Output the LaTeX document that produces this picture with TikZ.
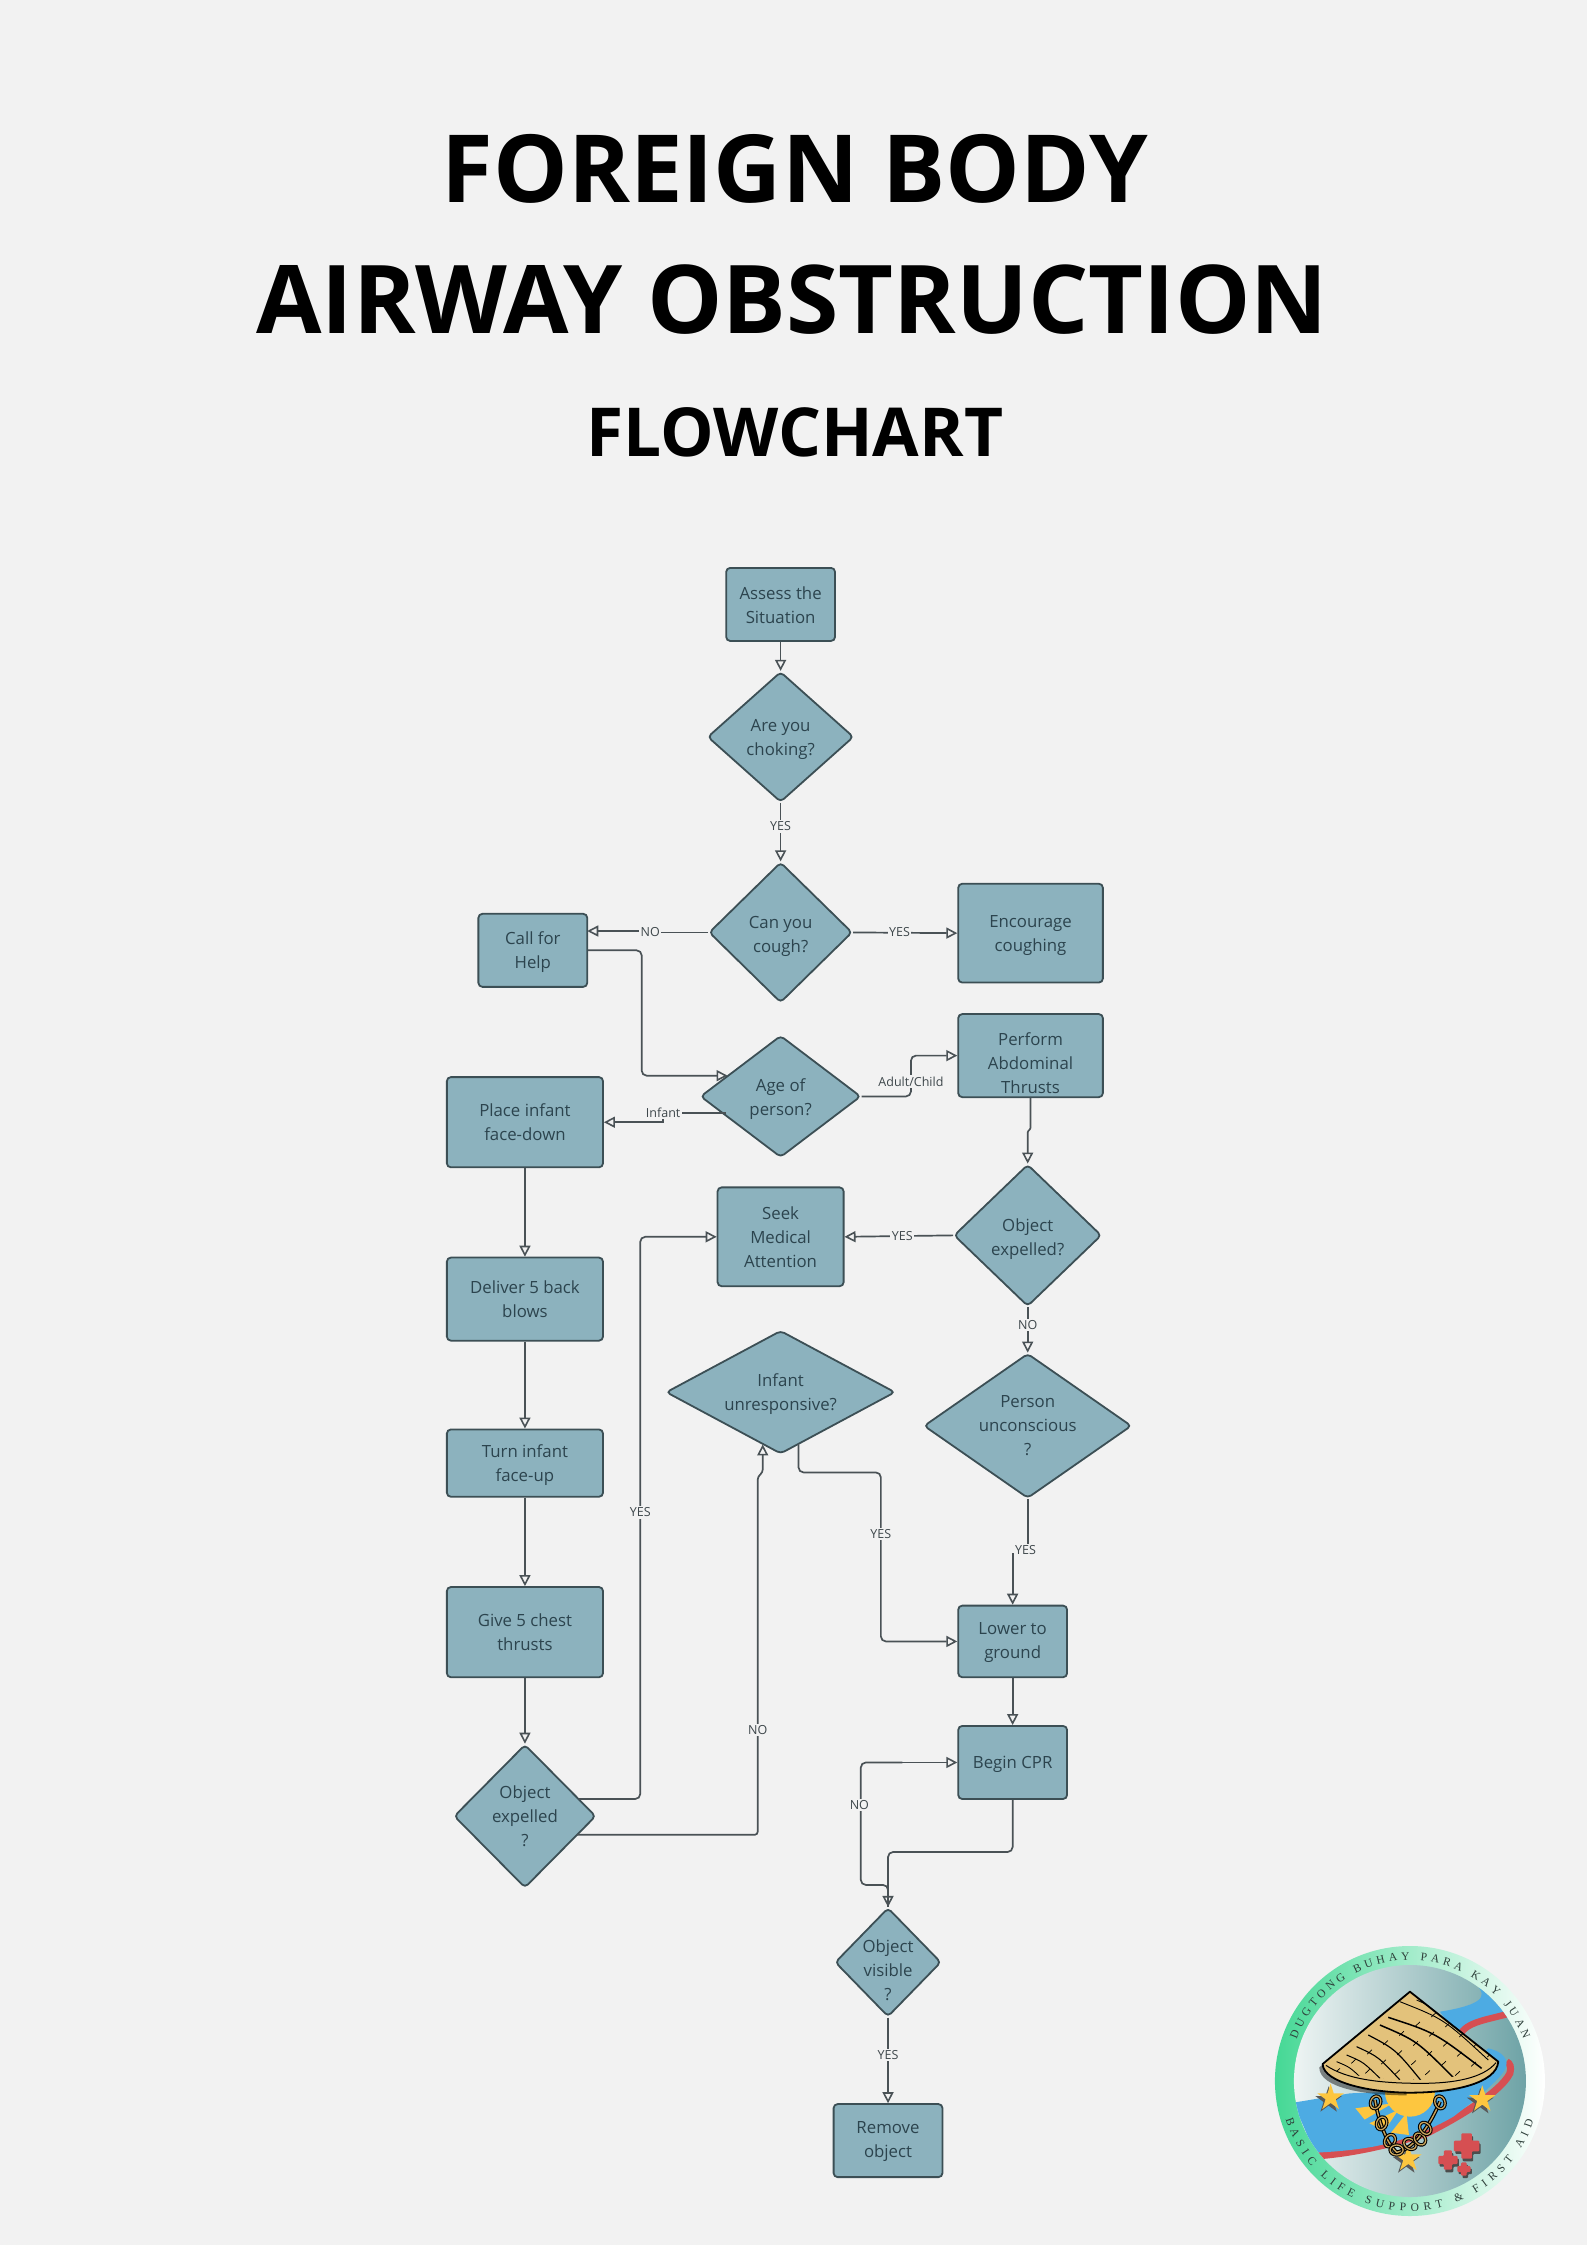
\documentclass[tikz,border=0pt]{standalone}
\usepackage{fontspec}
\setmainfont{Open Sans}
\newfontfamily\logofont{Liberation Serif}
\usetikzlibrary{shapes.geometric,arrows.meta,calc,decorations.text}
\definecolor{bgcol}{HTML}{F2F2F2}
\definecolor{boxfill}{HTML}{8CB2BE}
\definecolor{boxline}{HTML}{3C4F55}
\definecolor{flowline}{HTML}{4A5256}
\definecolor{boxtext}{HTML}{2C444E}
\definecolor{labtext}{HTML}{3E474B}
\definecolor{hatcol}{HTML}{E3C27B}
\definecolor{sunY}{HTML}{FDC63F}
\definecolor{riverB}{HTML}{4DABE3}
\definecolor{riverR}{HTML}{D64F52}
\definecolor{ringL}{HTML}{45D895}
\definecolor{discL}{HTML}{EEF4F3}
\definecolor{discR}{HTML}{6EA3A6}
\definecolor{ringtext}{HTML}{2E3F3A}
\definecolor{chainC}{HTML}{C9A35A}
\tikzset{
  box/.style={draw=boxline,fill=boxfill,line width=1.8pt,rounded corners=4pt,inner sep=0pt},
  dia/.style={diamond,draw=boxline,fill=boxfill,line width=1.8pt,rounded corners=4pt,inner sep=0pt},
  boxlabel/.style={align=center,text=boxtext,inner sep=0pt,font=\fontsize{16.8}{24}\selectfont},
  flow/.style={draw=flowline,line width=1.7pt,rounded corners=5pt,
    -{Triangle[open,length=11pt,width=11pt,line width=1.6pt]}},
  flowplain/.style={draw=flowline,line width=1.7pt,rounded corners=5pt},
  lab/.style={fill=bgcol,text=labtext,inner xsep=1.5pt,inner ysep=1.5pt,font=\fontsize{12.5}{14}\selectfont},
  titletext/.style={text=black,inner sep=0pt}
}
% name, x, y, w, h, text dy, text
\newcommand\diam[7]{%
  \node[dia,minimum width=#4*1.4323pt,minimum height=#5*1.4323pt] (#1) at (#2,#3) {};
  \node[boxlabel] (#1T) at ($(#1.center)+(0,#6)$) {#7};}
\newcommand\bx[7]{%
  \node[box,minimum width=#4*1.4323pt,minimum height=#5*1.4323pt] (#1) at (#2,#3) {};
  \node[boxlabel] (#1T) at ($(#1.center)+(0,#6)$) {#7};}
\newcommand\lstar[4][sunY]{\fill[#1] ({#2},{#3-#4}) \foreach \a in {36,72,...,324}{ -- ({#2+(mod(\a,72)==0?1:.38)*#4*sin(\a)},{#3-(mod(\a,72)==0?1:.38)*#4*cos(\a)}) } -- cycle;}
\newcommand\lcross[4][riverR]{\fill[#1,rounded corners=1pt] ({#2-#4/2.4},{#3-#4}) -- ({#2+#4/2.4},{#3-#4}) -- ({#2+#4/2.4},{#3-#4/2.4}) -- ({#2+#4},{#3-#4/2.4}) -- ({#2+#4},{#3+#4/2.4}) -- ({#2+#4/2.4},{#3+#4/2.4}) -- ({#2+#4/2.4},{#3+#4}) -- ({#2-#4/2.4},{#3+#4}) -- ({#2-#4/2.4},{#3+#4/2.4}) -- ({#2-#4},{#3+#4/2.4}) -- ({#2-#4},{#3-#4/2.4}) -- ({#2-#4/2.4},{#3-#4/2.4}) -- cycle;}
\begin{document}
\begin{tikzpicture}[x=1.4323pt,y=-1.4323pt]
\fill[bgcol] (0,0) rectangle (1108,1567.4);
\useasboundingbox (0,0) rectangle (1108,1567.4);

% titles
\node[titletext,font=\fontsize{94}{96}\bfseries\selectfont] (title1) at (555,118) {FOREIGN BODY};
\node[titletext,font=\fontsize{94.9}{96}\bfseries\selectfont] (title2) at (553,209) {AIRWAY OBSTRUCTION};
\node[titletext,font=\fontsize{67.5}{70}\bfseries\selectfont] (title3) at (555,302) {FLOWCHART};

% process boxes
\bx{assess}{545}{422}{76}{51}{.5}{Assess the\\Situation}
\bx{encourage}{719.5}{651.5}{101}{69}{1.5}{Encourage\\coughing}
\bx{call}{372}{663.5}{76}{51}{1.5}{Call for\\Help}
\bx{perform}{719.5}{737}{101}{58}{5}{Perform\\Abdominal\\Thrusts}
\bx{place}{366.5}{783.5}{109}{63}{0}{Place infant\\face-down}
\bx{seek}{545}{863.5}{88}{69}{.5}{Seek\\Medical\\Attention}
\bx{deliver}{366.5}{907}{109}{58}{0}{Deliver 5 back\\blows}
\bx{turn}{366.5}{1021.5}{109}{47}{1.5}{Turn infant\\face-up}
\bx{give}{366.5}{1139.5}{109}{63}{0}{Give 5 chest\\thrusts}
\bx{lower}{707}{1146}{76}{50}{1}{Lower to\\ground}
\bx{begincpr}{707}{1230.5}{76}{51}{1.5}{Begin CPR}
\bx{remove}{620}{1494.5}{76}{51}{.5}{Remove\\object}

% decisions
\diam{choking}{545}{514.5}{102}{91}{1.5}{Are you\\choking?}
\diam{cough}{545}{651}{100}{98}{2.5}{Can you\\cough?}
\diam{age}{545}{765.5}{112}{85}{2}{Age of\\person?}
\diam{expA}{717.5}{862.5}{103}{99}{2.5}{Object\\expelled?}
\diam{infunr}{545}{972}{160}{86}{1}{Infant\\unresponsive?}
\diam{person}{717.5}{995.5}{145}{101}{0}{Person\\unconscious\\?}
\diam{expB}{366.5}{1268}{99}{100}{0}{Object\\expelled\\?}
\diam{visible}{620}{1370}{74}{76}{5.5}{Object\\visible\\?}

% off-anchor connector ends
\coordinate (ageIn) at (508,751);
\coordinate (ageOutL) at (507,777);
\coordinate (expBy) at (404,1256);
\coordinate (expBn) at (403,1281);
\coordinate (unrIn) at (532.5,1008.5);
\coordinate (unrOut) at (557.5,1008.5);
\coordinate (callIn) at (410,650);

% connectors
\draw[flow] (assess.south) -- (choking.north);
\draw[flow] (choking.south) -- (cough.north);
\draw[flow,rounded corners=0pt] (cough.west) -- (454,651) -- (454,650) -- (callIn);
\draw[flow] (cough.east) -- (encourage.west);
\draw[flow] (call.east) -- (448,663.5) -- (448,751) -- (ageIn);
\draw[flow] (age.east) -- (636,765.5) -- (636,737) -- (perform.west);
\draw[flow,rounded corners=0pt] (ageOutL) -- (463,777) -- (463,783.5) -- (place.east);
\draw[flow,rounded corners=1pt] (perform.south) -- (719.5,788) -- (717.5,790) -- (expA.north);
\draw[flow] (expA.west) -- (seek.east);
\draw[flow] (expA.south) -- (person.north);
\draw[flow,rounded corners=0pt] (person.south) -- (717.5,1085) -- (707,1085) -- (lower.north);
\draw[flow] (unrOut) -- (557.5,1028) -- (615,1028) -- (615,1146) -- (lower.west);
\draw[flow] (place.south) -- (deliver.north);
\draw[flow] (deliver.south) -- (turn.north);
\draw[flow] (turn.south) -- (give.north);
\draw[flow] (give.south) -- (expB.north);
\draw[flow] (expBy) -- (447,1256) -- (447,863.5) -- (seek.west);
\draw[flow,rounded corners=3pt] (expBn) -- (529,1281) -- (529,1031) -- (532.5,1028) -- (unrIn);
\draw[flow] (lower.south) -- (begincpr.north);
\draw[flowplain] (visible.north) -- (620,1316) -- (601,1316) -- (601,1230.5) -- (630,1230.5);
\draw[flow] (620,1230.5) -- (begincpr.west);
\draw[flow] (begincpr.south) -- (707,1293) -- (620,1293) -- (visible.north);
\draw[flow] (visible.south) -- (remove.north);

% connector labels
\node[lab] (l1) at (545,577) {YES};
\node[lab] (l2) at (454,651) {NO};
\node[lab] (l3) at (628,651) {YES};
\node[lab] (l4) at (636,755) {Adult/Child};
\node[lab] (l5) at (463,777) {Infant};
\node[lab] (l6) at (630,863) {YES};
\node[lab] (l7) at (717.5,925) {NO};
\node[lab] (l8) at (716,1082) {YES};
\node[lab] (l9) at (615,1071) {YES};
\node[lab] (l10) at (447,1056) {YES};
\node[lab] (l11) at (529,1208) {NO};
\node[lab] (l12) at (600,1260) {NO};
\node[lab] (l13) at (620,1435) {YES};

% logo
\begin{scope}[shift={(865.7,1340.5)},x=.3333pt,y=-.3333pt]
  \shade[left color=ringL,right color=white] (510,483) circle[radius=135pt];
  \shade[left color=discL,right color=discR] (510,483) circle[radius=116pt];
  \begin{scope}
    \clip (510,483) circle[radius=116pt];
    \fill[riverB] (710,195) .. controls (745,230) and (725,255) .. (600,275) -- (650,345) .. controls (680,305) and (740,290) .. (810,270) -- cycle;
    \draw[riverR,line width=6.5pt] (810,280) .. controls (740,300) and (680,305) .. (660,345);
    \draw[riverR,line width=7pt] (230,708) .. controls (330,700) and (430,680) .. (560,640) .. controls (640,600) and (780,520) .. (810,460) .. controls (815,440) and (810,430) .. (800,425);
    \fill[riverB] (160,548) -- (330,520) -- (600,510) -- (745,385) .. controls (790,395) and (810,420) .. (795,450) .. controls (770,490) and (680,560) .. (640,590) .. controls (580,625) and (500,660) .. (400,680) .. controls (340,690) and (290,695) .. (225,698) -- cycle;
  \end{scope}
  \lstar[gray!70!black]{266}{541}{42}
  \lstar[gray!70!black]{721}{546}{42}
  \lstar[gray!70!black]{499}{724}{42}
  \lstar{272}{533}{42}
  \lstar{727}{538}{42}
  \lstar{505}{716}{42}
  \foreach \a in {-80,-55,-30,30,55,80}{
    \fill[sunY] ($(510,520)+(\a+180:60 and 60)$) -- ($(510,520)+(\a+180+9:175 and 125)$) -- ($(510,520)+(\a+180-9:175 and 125)$) -- cycle;
  }
  \fill[sunY] (510,515) circle[radius=25pt];
  \foreach \a in {-12,12}{
    \fill[sunY] ($(510,520)+(\a+90:60)$) -- ($(510,520)+(\a+90+7:-130)$) -- ($(510,520)+(\a+90-7:-130)$) -- cycle;
  }
  \draw[black,line width=1.2pt,double=chainC,double distance=1.4pt] (405,540) .. controls (415,600) and (440,670) .. (470,697) .. controls (510,690) and (560,640) .. (600,545);
  \foreach \px/\py/\rr in {407/547/70,425/610/70,450/662/60,470/690/0,510/672/-30,540/657/-50,556/625/-50,600/547/-70}{
    \draw[black,line width=3.4pt] (\px,\py) ellipse[x radius=6.5pt,y radius=5pt,rotate=\rr];
    \draw[chainC,line width=1.3pt] (\px,\py) ellipse[x radius=6.5pt,y radius=5pt,rotate=\rr];
  }
  \fill[black,opacity=.45] (238,442) -- (500,225) -- (500,526) .. controls (380,526) and (238,505) .. (238,442) -- cycle;
  \begin{scope}
    \clip (510,215) -- (248,432) .. controls (250,490) and (400,518) .. (510,518) .. controls (640,518) and (770,490) .. (775,425) -- cycle;
    \fill[hatcol] (200,180) rectangle (800,540);
    \foreach \sx/\sy/\ex/\ey/\w in {480/245/745/420/.9,445/292/725/445/1.5,420/315/640/472/1.5,385/345/550/490/1.2,350/380/480/480/1.1,320/405/420/475/1,290/425/370/480/.9,530/240/760/410/.8}{
      \draw[black,line width=\w pt] (\sx,\sy) .. controls ({\sx+.5*(\ex-\sx)},{\sy+.3*(\ey-\sy)}) .. (\ex,\ey);
    }
    \foreach \dx in {0,48,...,440}{
      \foreach \t in {0,1,2,3,4}{
        \draw[black,line width=.7pt] ({300+\dx+\t*42},{445-\dx*.58+\t*30}) -- ({286+\dx+\t*42},{458-\dx*.58+\t*30});
      }
    }
    \fill[hatcol] (252,440) .. controls (380,490) and (640,500) .. (772,430) -- (780,530) -- (240,530) -- cycle;
  \end{scope}
  \draw[black,line width=1pt] (258,436) .. controls (320,478) and (420,490) .. (545,490) .. controls (640,490) and (730,475) .. (768,428);
  \draw[black,line width=1.8pt,line join=round] (510,215) -- (248,432) .. controls (250,490) and (400,518) .. (510,518) .. controls (640,518) and (770,490) .. (775,425) -- cycle;
  \lcross[gray!60!black]{684}{686}{38}
  \lcross[gray!60!black]{628}{728}{29}
  \lcross[gray!60!black]{676}{754}{20}
  \lcross{680}{678}{38}
  \lcross{624}{720}{29}
  \lcross{672}{747}{20}
  \path[decorate,decoration={text along path,text align={fit to path},
     text={|\logofont\fontsize{11.5}{13}\selectfont\color{ringtext}|DUGTONG BUHAY PARA KAY JUAN}}]
     (170,359) arc[start angle=160,end angle=20,radius=120.7pt];
  \path[decorate,decoration={text along path,text align={fit to path},
     text={|\logofont\fontsize{11.5}{13}\selectfont\color{ringtext}|BASIC LIFE SUPPORT {\&} FIRST AID}}]
     (137,597) arc[start angle=197,end angle=342,radius=130pt];
\end{scope}
\end{tikzpicture}
\end{document}
